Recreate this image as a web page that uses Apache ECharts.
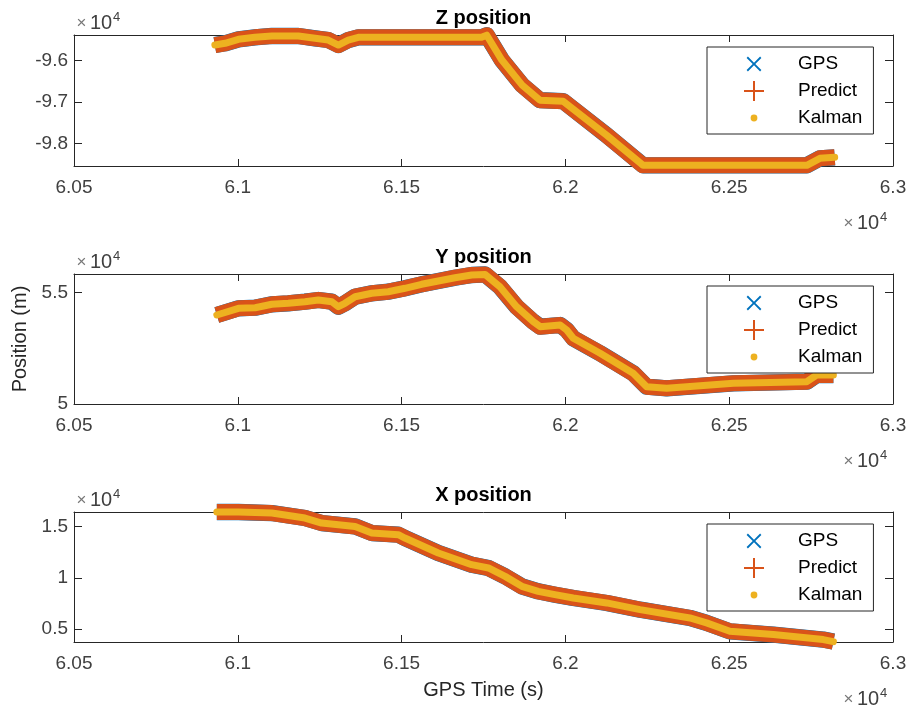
<!DOCTYPE html>
<html><head><meta charset="utf-8">
<script src="https://cdn.jsdelivr.net/npm/echarts@6/dist/echarts.min.js"></script>
<style>html,body{margin:0;padding:0;background:#fff}#chart{width:910px;height:710px}</style>
</head><body><div id="chart"></div>
<script>
// ---- data (GPS time in s, position in m) ----
const zTime = [60930, 60961, 61002, 61052, 61104, 61185, 61236, 61276, 61307, 61337, 61368, 61744, 61760, 61806, 61868, 61922, 61993, 62126, 62237, 62737, 62777, 62822];
const zPosition = [-95631, -95590, -95494, -95446, -95414, -95414, -95470, -95511, -95631, -95511, -95446, -95446, -95395, -95993, -96595, -96957, -96981, -97800, -98523, -98523, -98355, -98330];

const yTime = [60936, 61002, 61053, 61104, 61154, 61205, 61246, 61287, 61307, 61327, 61358, 61409, 61459, 61510, 61561, 61612, 61663, 61714, 61755, 61800, 61851, 61902, 61923, 61984, 62004, 62024, 62106, 62207, 62248, 62309, 62513, 62737, 62767, 62818];
const yPosition = [53998, 54299, 54326, 54479, 54524, 54596, 54672, 54596, 54371, 54524, 54820, 54973, 55045, 55198, 55377, 55526, 55674, 55795, 55820, 55270, 54371, 53697, 53473, 53549, 53324, 52952, 52278, 51380, 50778, 50706, 50930, 51002, 51303, 51303];

const xTime = [60936, 61002, 61104, 61205, 61256, 61358, 61409, 61490, 61510, 61612, 61714, 61765, 61816, 61867, 61917, 61968, 62024, 62126, 62228, 62380, 62431, 62502, 62635, 62787, 62818];
const xPosition = [16440, 16440, 16338, 15850, 15361, 15030, 14385, 14219, 13897, 12432, 11289, 10967, 10146, 9170, 8681, 8359, 8037, 7549, 6894, 6084, 5596, 4775, 4453, 3965, 3770];

const seriesNames = ['GPS', 'Predict', 'Kalman'];
const panelTitles = ['Z position', 'Y position', 'X position'];
const timeRange = [60500, 63000];
const timeInterval = 500;
const zRange = [-98540, -95390];
const yRange = [50000, 55840];
const xRange = [3730, 16440];
const zTicks = [-98000, -97000, -96000];
const yTicks = [50000, 55000];
const xTicks = [5000, 10000, 15000];

// ---- layout / style ----
const FONT = 'Liberation Sans, Arial, Helvetica, sans-serif';
const AX = '#262626';
const LBL = '#404040';
const colors = {GPS: '#0072BD', Predict: '#D95319', Kalman: '#EDB120'};
const widths = {GPS: 16.3, Predict: 16, Kalman: 7};
const gridTops = [35, 274, 512];
const gridHeights = [131, 130, 130];
const GL = 74, GW = 819;

const panels = [
  {t: zTime, v: zPosition, range: zRange, ticks: zTicks},
  {t: yTime, v: yPosition, range: yRange, ticks: yTicks},
  {t: xTime, v: xPosition, range: xRange, ticks: xTicks}
];

const icons = {
  GPS: 'path://M0 0M20 20M2.6 3.9L3.9 2.6L10 8.7L16.1 2.6L17.4 3.9L11.3 10L17.4 16.1L16.1 17.4L10 11.3L3.9 17.4L2.6 16.1L8.7 10Z',
  Predict: 'path://M0 0M20 20M9 0L11 0L11 9L20 9L20 11L11 11L11 20L9 20L9 11L0 11L0 9L9 9Z',
  Kalman: 'path://M0 0M20 20M6.6 10A3.4 3.4 0 1 0 13.4 10A3.4 3.4 0 1 0 6.6 10Z'
};

const fmt = v => String(Math.round(v) / 1e4);

const grid = [], xAxis = [], yAxis = [], series = [], legend = [], graphic = [];

panels.forEach((p, i) => {
  grid.push({left: GL, top: gridTops[i], width: GW, height: gridHeights[i], containLabel: false});
});
panels.forEach((p, i) => {
  xAxis.push({
    type: 'value', gridIndex: i, position: 'bottom', min: timeRange[0], max: timeRange[1], interval: timeInterval,
    axisLine: {show: true, onZero: false, lineStyle: {color: AX, width: 1}},
    axisTick: {show: true, inside: true, length: 7, lineStyle: {color: AX}},
    axisLabel: {show: true, margin: 12, formatter: fmt, color: LBL, fontSize: 19, fontFamily: FONT, showMinLabel: true, showMaxLabel: true, hideOverlap: false},
    splitLine: {show: false},
    name: i === 2 ? 'GPS Time (s)' : '', nameLocation: 'middle', nameGap: 38,
    nameTextStyle: {fontSize: 20, color: AX, fontFamily: FONT}
  });
});
panels.forEach((p, i) => {
  xAxis.push({
    type: 'value', gridIndex: i, position: 'top', min: timeRange[0], max: timeRange[1], interval: timeInterval,
    axisLine: {show: true, onZero: false, lineStyle: {color: AX, width: 1}},
    axisTick: {show: true, inside: true, length: 7, lineStyle: {color: AX}},
    axisLabel: {show: false}, splitLine: {show: false}
  });
});
panels.forEach((p, i) => {
  yAxis.push({
    type: 'value', gridIndex: i, position: 'left', min: p.range[0], max: p.range[1],
    axisLine: {show: true, onZero: false, lineStyle: {color: AX, width: 1}},
    axisTick: {show: true, inside: true, length: 8, customValues: p.ticks, lineStyle: {color: AX}},
    axisLabel: {show: true, customValues: p.ticks, margin: 6, formatter: fmt, color: LBL, fontSize: 19, fontFamily: FONT},
    splitLine: {show: false},
    name: i === 1 ? 'Position (m)' : '', nameLocation: 'middle', nameGap: 38, nameRotate: 90,
    nameTextStyle: {fontSize: 20, color: AX, fontFamily: FONT}
  });
});
panels.forEach((p, i) => {
  yAxis.push({
    type: 'value', gridIndex: i, position: 'right', min: p.range[0], max: p.range[1],
    axisLine: {show: true, onZero: false, lineStyle: {color: AX, width: 1}},
    axisTick: {show: true, inside: true, length: 8, customValues: p.ticks, lineStyle: {color: AX}},
    axisLabel: {show: false}, splitLine: {show: false}
  });
});

panels.forEach((p, i) => {
  const pts = p.t.map((tv, k) => [tv, p.v[k]]);
  seriesNames.forEach((name, s) => {
    series.push({
      type: 'line', name, xAxisIndex: i, yAxisIndex: i, data: pts,
      showSymbol: false, clip: false, silent: true, animation: false, z: 2 + s,
      color: colors[name],
      itemStyle: {color: colors[name]},
      lineStyle: {color: colors[name], width: widths[name], join: 'round', cap: name === 'Kalman' ? 'round' : 'butt'},
      emphasis: {disabled: true}
    });
  });
  legend.push({
    orient: 'vertical', left: 707, top: gridTops[i] + 12, padding: [7, 11, 6, 37],
    itemWidth: 78, itemHeight: 20, itemGap: 7, selectedMode: false, z: 10,
    borderColor: AX, borderWidth: 1, backgroundColor: '#fff',
    textStyle: {fontSize: 19, color: '#000', fontFamily: FONT},
    data: seriesNames.map(n => ({name: n, icon: icons[n], itemStyle: {color: colors[n], borderWidth: 0}}))
  });
  // title
  graphic.push({type: 'text', x: GL + GW / 2, y: gridTops[i] - 17, z: 20,
    style: {text: panelTitles[i], align: 'center', verticalAlign: 'middle', font: 'bold 20px ' + FONT, fill: '#000'}});
  // x10^4 exponent labels
  const expo = (xc, yc) => {
    graphic.push({type: 'text', x: xc, y: yc, z: 20, style: {text: '\u00d7', align: 'center', verticalAlign: 'middle', font: '17px ' + FONT, fill: '#777'}});
    graphic.push({type: 'text', x: xc + 8.5, y: yc, z: 20, style: {text: '10', align: 'left', verticalAlign: 'middle', font: '20px ' + FONT, fill: LBL}});
    graphic.push({type: 'text', x: xc + 31.5, y: yc - 6.5, z: 20, style: {text: '4', align: 'left', verticalAlign: 'middle', font: '13px ' + FONT, fill: LBL}});
  };
  expo(81.5, gridTops[i] - 11.5);
  expo(848.5, gridTops[i] + gridHeights[i] + 57.5);
});

const chart = echarts.init(document.getElementById('chart'), null, {renderer: 'canvas'});
chart.setOption({
  animation: false,
  backgroundColor: '#fff',
  textStyle: {fontFamily: FONT},
  grid, xAxis, yAxis, series, legend, graphic
});
</script></body></html>
